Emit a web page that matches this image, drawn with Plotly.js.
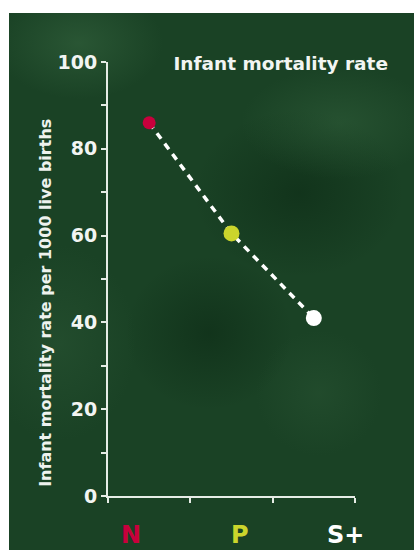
<!DOCTYPE html>
<html>
<head>
<meta charset="utf-8">
<script src="https://cdn.plot.ly/plotly-3.0.1.min.js"></script>
<style>
  html, body { margin: 0; padding: 0; background: #ffffff; }
  #wrap { position: relative; width: 414px; height: 550px; overflow: hidden; background: #ffffff; }
  #bg {
    position: absolute; left: 9px; top: 13px; width: 405px; height: 537px;
    background:
      radial-gradient(ellipse 120px 80px at 70px 30px, rgba(60,110,70,0.45), rgba(60,110,70,0) 70%),
      radial-gradient(ellipse 140px 80px at 330px 110px, rgba(60,110,70,0.35), rgba(60,110,70,0) 70%),
      radial-gradient(ellipse 150px 120px at 290px 180px, rgba(8,35,16,0.45), rgba(8,35,16,0) 70%),
      radial-gradient(ellipse 110px 140px at 50px 330px, rgba(50,95,60,0.35), rgba(50,95,60,0) 70%),
      radial-gradient(ellipse 120px 110px at 200px 320px, rgba(8,35,16,0.45), rgba(8,35,16,0) 70%),
      radial-gradient(ellipse 90px 90px at 310px 380px, rgba(50,95,60,0.3), rgba(50,95,60,0) 70%),
      #1a4225;
  }
  #chart { position: absolute; left: 0; top: 0; width: 414px; height: 550px; }
</style>
</head>
<body>
<div id="wrap">
  <div id="bg"></div>
  <div id="chart"></div>
</div>
<script>
// Data
const categories = ["N", "P", "S+"];
const mortality = [86, 60.5, 41];
const pointColors = ["#c8003c", "#cbd52c", "#ffffff"];
const pointSizes = [13, 16, 16];
const yTickVals = [0, 20, 40, 60, 80, 100];
const yTickText = ["0", "20", "40", "60", "80", "100"];

// Positions (layout only)
const catPos = [0.5, 1.5, 2.5];
const labelPos = [0.28, 1.6, 2.88];

const FONT = "DejaVu Sans, sans-serif";
const AXIS_COLOR = "#e6ece6";

const traces = [
  {
    type: "scatter", mode: "lines",
    x: catPos, y: mortality,
    line: { color: "#ffffff", width: 3.5, dash: "7px,6px" },
    hoverinfo: "skip", showlegend: false
  },
  {
    type: "scatter", mode: "markers",
    x: catPos, y: mortality,
    marker: { color: pointColors, size: pointSizes, opacity: 1, line: { width: 0 } },
    opacity: 1,
    showlegend: false
  }
];

const annotations = categories.map((c, i) => ({
  xref: "x", yref: "paper", x: labelPos[i], y: -0.09,
  text: "<b>" + c + "</b>", showarrow: false,
  xanchor: "center", yanchor: "middle",
  font: { family: FONT, size: 24, color: pointColors[i] }
}));
annotations.push({
  xref: "paper", yref: "paper", x: -0.251, y: 0.445,
  text: "<b>Infant mortality rate per 1000 live births</b>",
  textangle: -90, showarrow: false,
  xanchor: "center", yanchor: "middle",
  font: { family: FONT, size: 16, color: "#eef2ee" }
});

const layout = {
  width: 414, height: 550,
  margin: { l: 108, r: 59, t: 62, b: 54, pad: 0 },
  paper_bgcolor: "rgba(0,0,0,0)",
  plot_bgcolor: "rgba(0,0,0,0)",
  title: {
    text: "<b>Infant mortality rate</b>",
    x: 388 / 414, xanchor: "right", xref: "container",
    y: 1 - 64 / 550, yanchor: "middle", yref: "container",
    font: { family: FONT, size: 18.5, color: "#f2f5f2" }
  },
  xaxis: {
    range: [0, 3], showgrid: false, zeroline: false,
    showline: true, linecolor: AXIS_COLOR, linewidth: 2,
    tickvals: [0, 1, 2, 3], ticktext: ["", "", "", ""],
    ticks: "outside", ticklen: 5, tickwidth: 2, tickcolor: AXIS_COLOR,
    fixedrange: true
  },
  yaxis: {
    range: [0, 100], showgrid: false, zeroline: false,
    showline: true, linecolor: AXIS_COLOR, linewidth: 2,
    tickvals: yTickVals, ticktext: yTickText.map(t => "<b>" + t + "</b>"),
    ticks: "outside", ticklen: 5, tickwidth: 2, tickcolor: AXIS_COLOR,
    tickfont: { family: FONT, size: 19, color: "#f2f5f2" },
    minor: { dtick: 10, tick0: 0, ticks: "outside", ticklen: 5, tickwidth: 2, tickcolor: AXIS_COLOR },
    fixedrange: true
  },
  annotations: annotations
};

Plotly.newPlot("chart", traces, layout, { displayModeBar: false, staticPlot: true });
</script>
</body>
</html>
